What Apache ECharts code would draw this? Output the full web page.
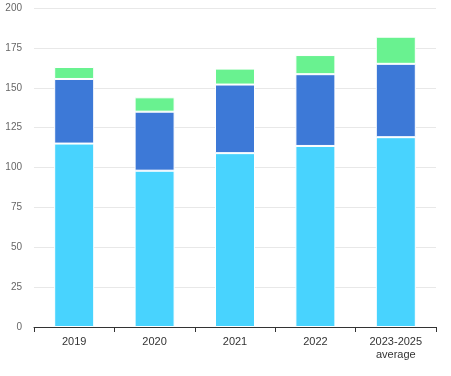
<!DOCTYPE html>
<html><head><meta charset="utf-8">
<script src="https://cdn.jsdelivr.net/npm/echarts@6/dist/echarts.min.js"></script>
<style>html,body{margin:0;padding:0;background:#fff}#c{width:451px;height:376px}</style>
</head><body><div id="c"></div>
<script>
const categories = ['2019', '2020', '2021', '2022', '2023-2025\naverage'];
const seriesBase = [115, 98, 109, 113.5, 119];
const seriesMid = [40.5, 37, 43, 45, 46];
const seriesTop = [7.5, 9, 10, 12, 17];
const yTicks = {min: 0, max: 200, interval: 25};
const colors = ['#48d3fe', '#3d79d7', '#69f290'];

const chart = echarts.init(document.getElementById('c'), null, {renderer: 'canvas'});
const mk = (data, color) => ({
  type: 'bar', stack: 's', data: data, barWidth: 40,
  itemStyle: {color: color, borderColor: '#fff', borderWidth: 1},
  emphasis: {disabled: true}
});
chart.setOption({
  animation: false,
  grid: {left: 34, right: 15, top: 8, bottom: 49, containLabel: false},
  xAxis: {
    type: 'category', data: categories,
    axisLine: {lineStyle: {color: '#333', width: 1}},
    axisTick: {show: true, length: 5, lineStyle: {color: '#333'}},
    axisLabel: {color: '#333', fontSize: 11, fontFamily: 'Liberation Sans, Arial, sans-serif', margin: 8, lineHeight: 13}
  },
  yAxis: {
    type: 'value', min: yTicks.min, max: yTicks.max, interval: yTicks.interval,
    axisLine: {show: false}, axisTick: {show: false},
    splitLine: {lineStyle: {color: '#e8e8e8'}},
    axisLabel: {color: '#666', fontSize: 10, fontFamily: 'Liberation Sans, Arial, sans-serif', margin: 12}
  },
  series: [mk(seriesBase, colors[0]), mk(seriesMid, colors[1]), mk(seriesTop, colors[2])]
});
</script></body></html>
